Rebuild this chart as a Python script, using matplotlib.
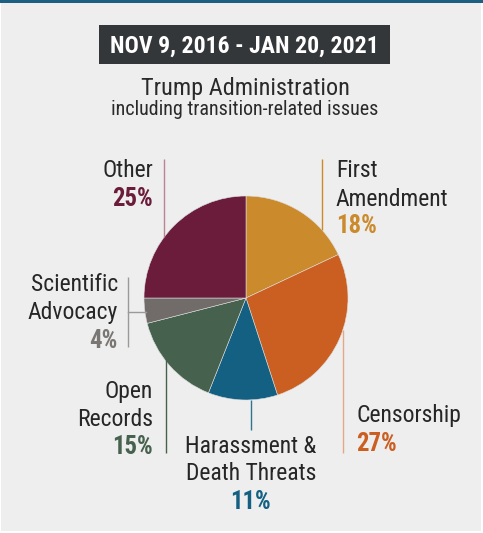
import matplotlib
matplotlib.use("Agg")
import matplotlib.pyplot as plt
from matplotlib import font_manager as fm
from matplotlib.patches import Rectangle

# ---- data ----
categories = ["First\nAmendment", "Censorship", "Harassment &\nDeath Threats",
              "Open\nRecords", "Scientific\nAdvocacy", "Other"]
values = [18, 27, 11, 15, 4, 25]
pct_labels = ["18%", "27%", "11%", "15%", "4%", "25%"]
colors = ["#cb8a2c", "#cb5f22", "#136082", "#46614d", "#716c6a", "#6a1c3a"]
line_colors = ["#cb8a2c", "#e3a88a", "#2f7592", "#46614d", "#9a9a9a", "#b98494"]
title_text = "NOV 9, 2016 - JAN 20, 2021"
subtitle = "Trump Administration"
subsubtitle = "including transition-related issues"

# ---- font choice ----
names = {f.name for f in fm.fontManager.ttflist}
family = "DejaVu Sans"
stretch = "normal"
for cand in ["Roboto Condensed", "Liberation Sans Narrow", "Open Sans Condensed",
             "Noto Sans Condensed", "Roboto", "Liberation Sans"]:
    if cand in names:
        family = cand
        break
cond = [f for f in fm.fontManager.ttflist if f.name == family and
        str(f.stretch) in ("condensed", "semi-condensed", "extra-condensed", "75", "87.5")]
if cond:
    stretch = "condensed"
narrow = family in ("Roboto Condensed", "Liberation Sans Narrow", "Open Sans Condensed",
                    "Noto Sans Condensed") or stretch == "condensed"
scale = 1.0 if narrow else 0.86

W, H = 483, 533
fig = plt.figure(figsize=(W / 100, H / 100), dpi=100)
fig.patch.set_facecolor("white")
ax = fig.add_axes([0, 0, 1, 1])
ax.set_xlim(0, W)
ax.set_ylim(0, H)
ax.axis("off")


def Y(p):
    return H - p


# background panel and top bar
ax.add_patch(Rectangle((1, Y(531)), W - 3, 531 - 3, facecolor="#eeeeee", edgecolor="none", zorder=0))
ax.add_patch(Rectangle((0, Y(3)), W, 3, facecolor="#1d5f80", edgecolor="none", zorder=1))

fkw = dict(family=family, stretch=stretch)

# title box
ax.add_patch(Rectangle((99, Y(64)), 291, 39, facecolor="#333739", edgecolor="none", zorder=2))
ax.text(244.5, Y(53), title_text, color="white", fontsize=17.1 * scale, fontweight="bold",
        ha="center", va="baseline", zorder=3, **fkw)
ax.text(245, Y(95), subtitle, color="#2a2a2a", fontsize=17.5 * scale,
        ha="center", va="baseline", **fkw)
ax.text(245, Y(115), subsubtitle, color="#2a2a2a", fontsize=14.4 * scale,
        ha="center", va="baseline", **fkw)

# pie
cx, cy, r = 246, 298, 102
ax.pie(values, colors=colors, startangle=90, counterclock=False,
       center=(cx, Y(cy)), radius=r, frame=True,
       wedgeprops=dict(edgecolor="#dddddd", linewidth=0.4))
ax.set_xlim(0, W)
ax.set_ylim(0, H)
ax.set_aspect("auto")
ax.axis("off")

# leader lines (x, y0, y1) in pixels
leaders = [
    (322, 159, 230),
    (343, 330, 453),
    (251, 400, 430),
    (166, 360, 453),
    (128, 277, 347),
    (164, 159, 237),
]
for (x, y0, y1), lc in zip(leaders, line_colors):
    ax.plot([x, x], [Y(y0), Y(y1)], color=lc, lw=1.0, solid_capstyle="butt")
ax.plot([128, 146], [Y(312), Y(312)], color=line_colors[4], lw=1.0)

# label positions: (x, ha, baselines of lines..., pct baseline)
label_pos = [
    (336, "left", [177, 206], 233),
    (356, "left", [422], 451),
    (251, "center", [453, 480], 509),
    (153, "right", [398, 426], 454),
    (118, "right", [291, 319], 348),
    (153, "right", [177], 206),
]
fs = 17 * scale
for cat, pct, col, (x, ha, bls, pb) in zip(categories, pct_labels, colors, label_pos):
    for line, b in zip(cat.split("\n"), bls):
        ax.text(x, Y(b), line, color="#262626", fontsize=fs, ha=ha, va="baseline", **fkw)
    pcol = "#7a7674" if pct == "4%" else col
    ax.text(x, Y(pb), pct, color=pcol, fontsize=fs * 1.05, fontweight="bold", ha=ha,
            va="baseline", **fkw)

fig.savefig("out.png", dpi=100, facecolor=fig.get_facecolor())
